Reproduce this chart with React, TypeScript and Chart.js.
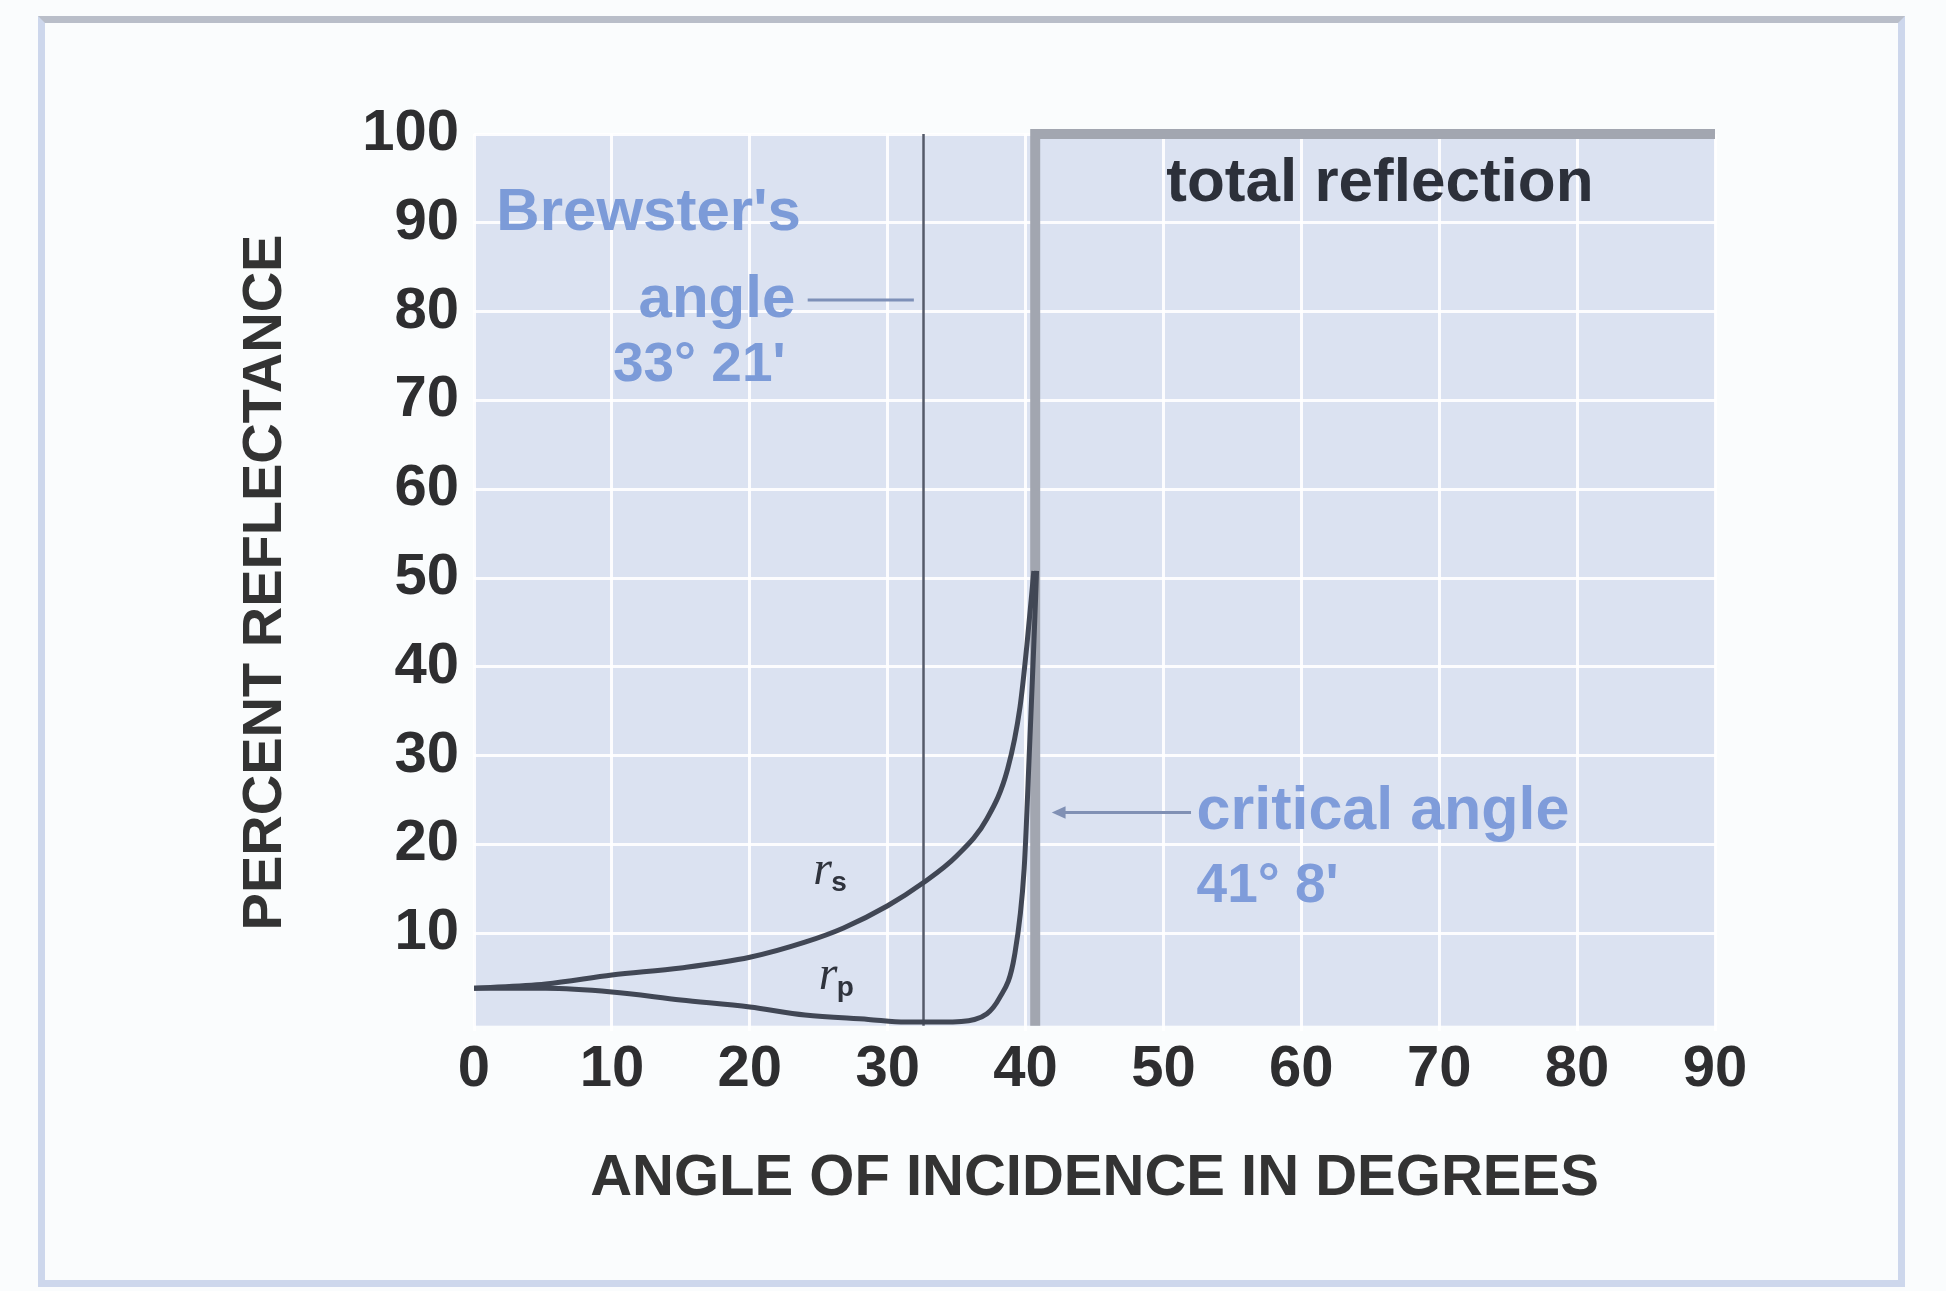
import React, { useEffect, useRef } from "react";
import { Chart, registerables } from "chart.js";
Chart.register(...registerables);

// ---- data ----
const sAngles = [0, 5.2, 10, 15, 20, 24, 26.8, 30, 32.5, 35, 37.2, 38.7, 39.6, 40.1, 40.6];
const sReflect = [3.8, 4.3, 5.3, 6.1, 7.3, 9.0, 10.6, 13.1, 15.6, 18.7, 22.9, 28.5, 35.5, 42.5, 50.8];
const pAngles = [0, 5.2, 10, 15, 20, 24, 28.6, 31.3, 34, 36.3, 38.1, 39.2, 39.9, 40.3, 40.6, 40.8];
const pReflect = [3.8, 3.8, 3.4, 2.5, 1.7, 0.8, 0.3, 0, 0, 0.3, 2.7, 7.5, 17.3, 31.3, 42.5, 50.8];
const xTicks = [0, 10, 20, 30, 40, 50, 60, 70, 80, 90];
const yTicks = [10, 20, 30, 40, 50, 60, 70, 80, 90, 100];
const brewsterAngle = 32.6;
const criticalAngle = 40.7;
const xTitle = "ANGLE OF INCIDENCE IN DEGREES";
const yTitle = "PERCENT REFLECTANCE";
const brewsterLines = ["Brewster's", "angle", "33° 21'"];
const criticalLines = ["critical angle", "41° 8'"];
const totalLabel = "total reflection";

const FONT = "'Liberation Sans', Arial, sans-serif";
const BG = "#dbe2f1";

const plotBg = {
  id: "plotBg",
  beforeDraw(chart: any) {
    const { ctx, scales } = chart;
    const x = scales.x, y = scales.y;
    const l = x.getPixelForValue(0), r = x.getPixelForValue(90);
    const t = y.getPixelForValue(100), b = y.getPixelForValue(-0.4);
    ctx.save();
    ctx.fillStyle = BG;
    ctx.fillRect(l, t, r - l, b - t);
    ctx.restore();
  },
};

const notes = {
  id: "notes",
  afterDatasetsDraw(chart: any) {
    const { ctx, scales } = chart;
    const X = (v: number) => scales.x.getPixelForValue(v);
    const Y = (v: number) => scales.y.getPixelForValue(v);
    ctx.save();
    // total reflection
    ctx.fillStyle = "#2c303a";
    ctx.font = `bold 62px ${FONT}`;
    ctx.textAlign = "center";
    ctx.textBaseline = "middle";
    ctx.fillText(totalLabel, X(65.7), Y(94.4));
    // Brewster's angle
    ctx.fillStyle = "#7c9bd8";
    ctx.font = `bold 60px ${FONT}`;
    ctx.textAlign = "right";
    ctx.fillText(brewsterLines[0], X(23.7), Y(91.0));
    ctx.fillText(brewsterLines[1], X(23.3), Y(81.3));
    ctx.font = `bold 55px ${FONT}`;
    ctx.fillText(brewsterLines[2], X(22.6), Y(73.9));
    ctx.strokeStyle = "#7e90b8";
    ctx.lineWidth = 3;
    ctx.beginPath();
    ctx.moveTo(X(24.2), Y(81.3));
    ctx.lineTo(X(31.9), Y(81.3));
    ctx.stroke();
    // critical angle
    ctx.fillStyle = "#7f9cda";
    ctx.font = `bold 61px ${FONT}`;
    ctx.textAlign = "left";
    ctx.fillText(criticalLines[0], X(52.4), Y(23.6));
    ctx.font = `bold 55px ${FONT}`;
    ctx.fillText(criticalLines[1], X(52.4), Y(15.2));
    ctx.strokeStyle = "#8090b4";
    ctx.lineWidth = 3;
    ctx.beginPath();
    ctx.moveTo(X(42.2), Y(23.6));
    ctx.lineTo(X(52.0), Y(23.6));
    ctx.stroke();
    ctx.fillStyle = "#8090b4";
    ctx.beginPath();
    ctx.moveTo(X(41.9), Y(23.6));
    ctx.lineTo(X(42.9), Y(24.3));
    ctx.lineTo(X(42.9), Y(22.9));
    ctx.closePath();
    ctx.fill();
    // r_s and r_p labels
    ctx.fillStyle = "#2f333d";
    ctx.textAlign = "left";
    ctx.font = `italic 48px 'Liberation Serif', serif`;
    ctx.fillText("r", X(24.6), Y(17.0));
    ctx.fillText("r", X(25.0), Y(5.2));
    ctx.font = `bold 28px ${FONT}`;
    ctx.fillText("s", X(25.9), Y(15.6));
    ctx.fillText("p", X(26.3), Y(3.8));
    ctx.restore();
  },
};

export default function App() {
  const ref = useRef<HTMLCanvasElement | null>(null);
  useEffect(() => {
    if (!ref.current) return;
    const tickFont = { family: FONT, size: 58, weight: "bold" as const };
    const chart = new Chart(ref.current, {
      type: "line",
      data: {
        datasets: [
          {
            label: "rs",
            data: sAngles.map((a, i) => ({ x: a, y: sReflect[i] })),
            borderColor: "#414755",
            borderWidth: 5,
            pointRadius: 0,
            cubicInterpolationMode: "monotone",
            fill: false,
          },
          {
            label: "rp",
            data: pAngles.map((a, i) => ({ x: a, y: pReflect[i] })),
            borderColor: "#414755",
            borderWidth: 5,
            pointRadius: 0,
            cubicInterpolationMode: "monotone",
            fill: false,
          },
          {
            label: "brewster",
            data: [
              { x: brewsterAngle, y: -0.4 },
              { x: brewsterAngle, y: 100 },
            ],
            borderColor: "#555b6a",
            borderWidth: 2.5,
            pointRadius: 0,
            tension: 0,
          },
          {
            label: "total",
            data: [
              { x: criticalAngle, y: -0.4 },
              { x: criticalAngle, y: 100 },
              { x: 90, y: 100 },
            ],
            borderColor: "#a2a6b0",
            borderWidth: 10,
            borderJoinStyle: "miter",
            pointRadius: 0,
            tension: 0,
            clip: false as any,
          },
        ],
      },
      options: {
        animation: false,
        responsive: false,
        devicePixelRatio: 1,
        layout: { padding: { left: 232, top: 134, right: 231, bottom: 77 } },
        plugins: { legend: { display: false }, tooltip: { enabled: false } },
        scales: {
          x: {
            type: "linear",
            min: 0,
            max: 90,
            afterBuildTicks: (s: any) => {
              s.ticks = xTicks.map((v) => ({ value: v }));
            },
            afterFit: (s: any) => {
              s.height = 183;
            },
            ticks: { font: tickFont, color: "#2e2e30", padding: 4, maxRotation: 0, autoSkip: false },
            grid: { color: "rgba(255,255,255,0.9)", lineWidth: 3, drawTicks: false },
            border: { display: false },
            title: { display: true, text: xTitle, font: { family: FONT, size: 58, weight: "bold" }, color: "#333", padding: 0 },
          },
          y: {
            type: "linear",
            min: -1,
            max: 100,
            afterBuildTicks: (s: any) => {
              s.ticks = yTicks.map((v) => ({ value: v }));
            },
            afterFit: (s: any) => {
              s.width = 242;
            },
            ticks: { font: tickFont, color: "#2e2e30", padding: 15, autoSkip: false },
            grid: { color: "rgba(255,255,255,0.9)", lineWidth: 3, drawTicks: false },
            border: { display: false },
            title: { display: true, text: yTitle, font: { family: FONT, size: 56, weight: "bold" }, color: "#333", padding: 0 },
          },
        },
      },
      plugins: [plotBg, notes],
    } as any);
    return () => chart.destroy();
  }, []);
  return (
    <div style={{ position: "fixed", left: 0, top: 0, width: 1946, height: 1291, background: "#fafcfd", overflow: "hidden" }}>
      <div
        style={{
          position: "absolute",
          left: 38,
          top: 16,
          width: 1905 - 38,
          height: 1287 - 16,
          boxSizing: "border-box",
          border: "7px solid #cdd7ec",
          borderTop: "7px solid #b9bec9",
        }}
      />
      <canvas ref={ref} width={1946} height={1291} style={{ position: "absolute", left: 0, top: 0, display: "block" }} />
    </div>
  );
}
